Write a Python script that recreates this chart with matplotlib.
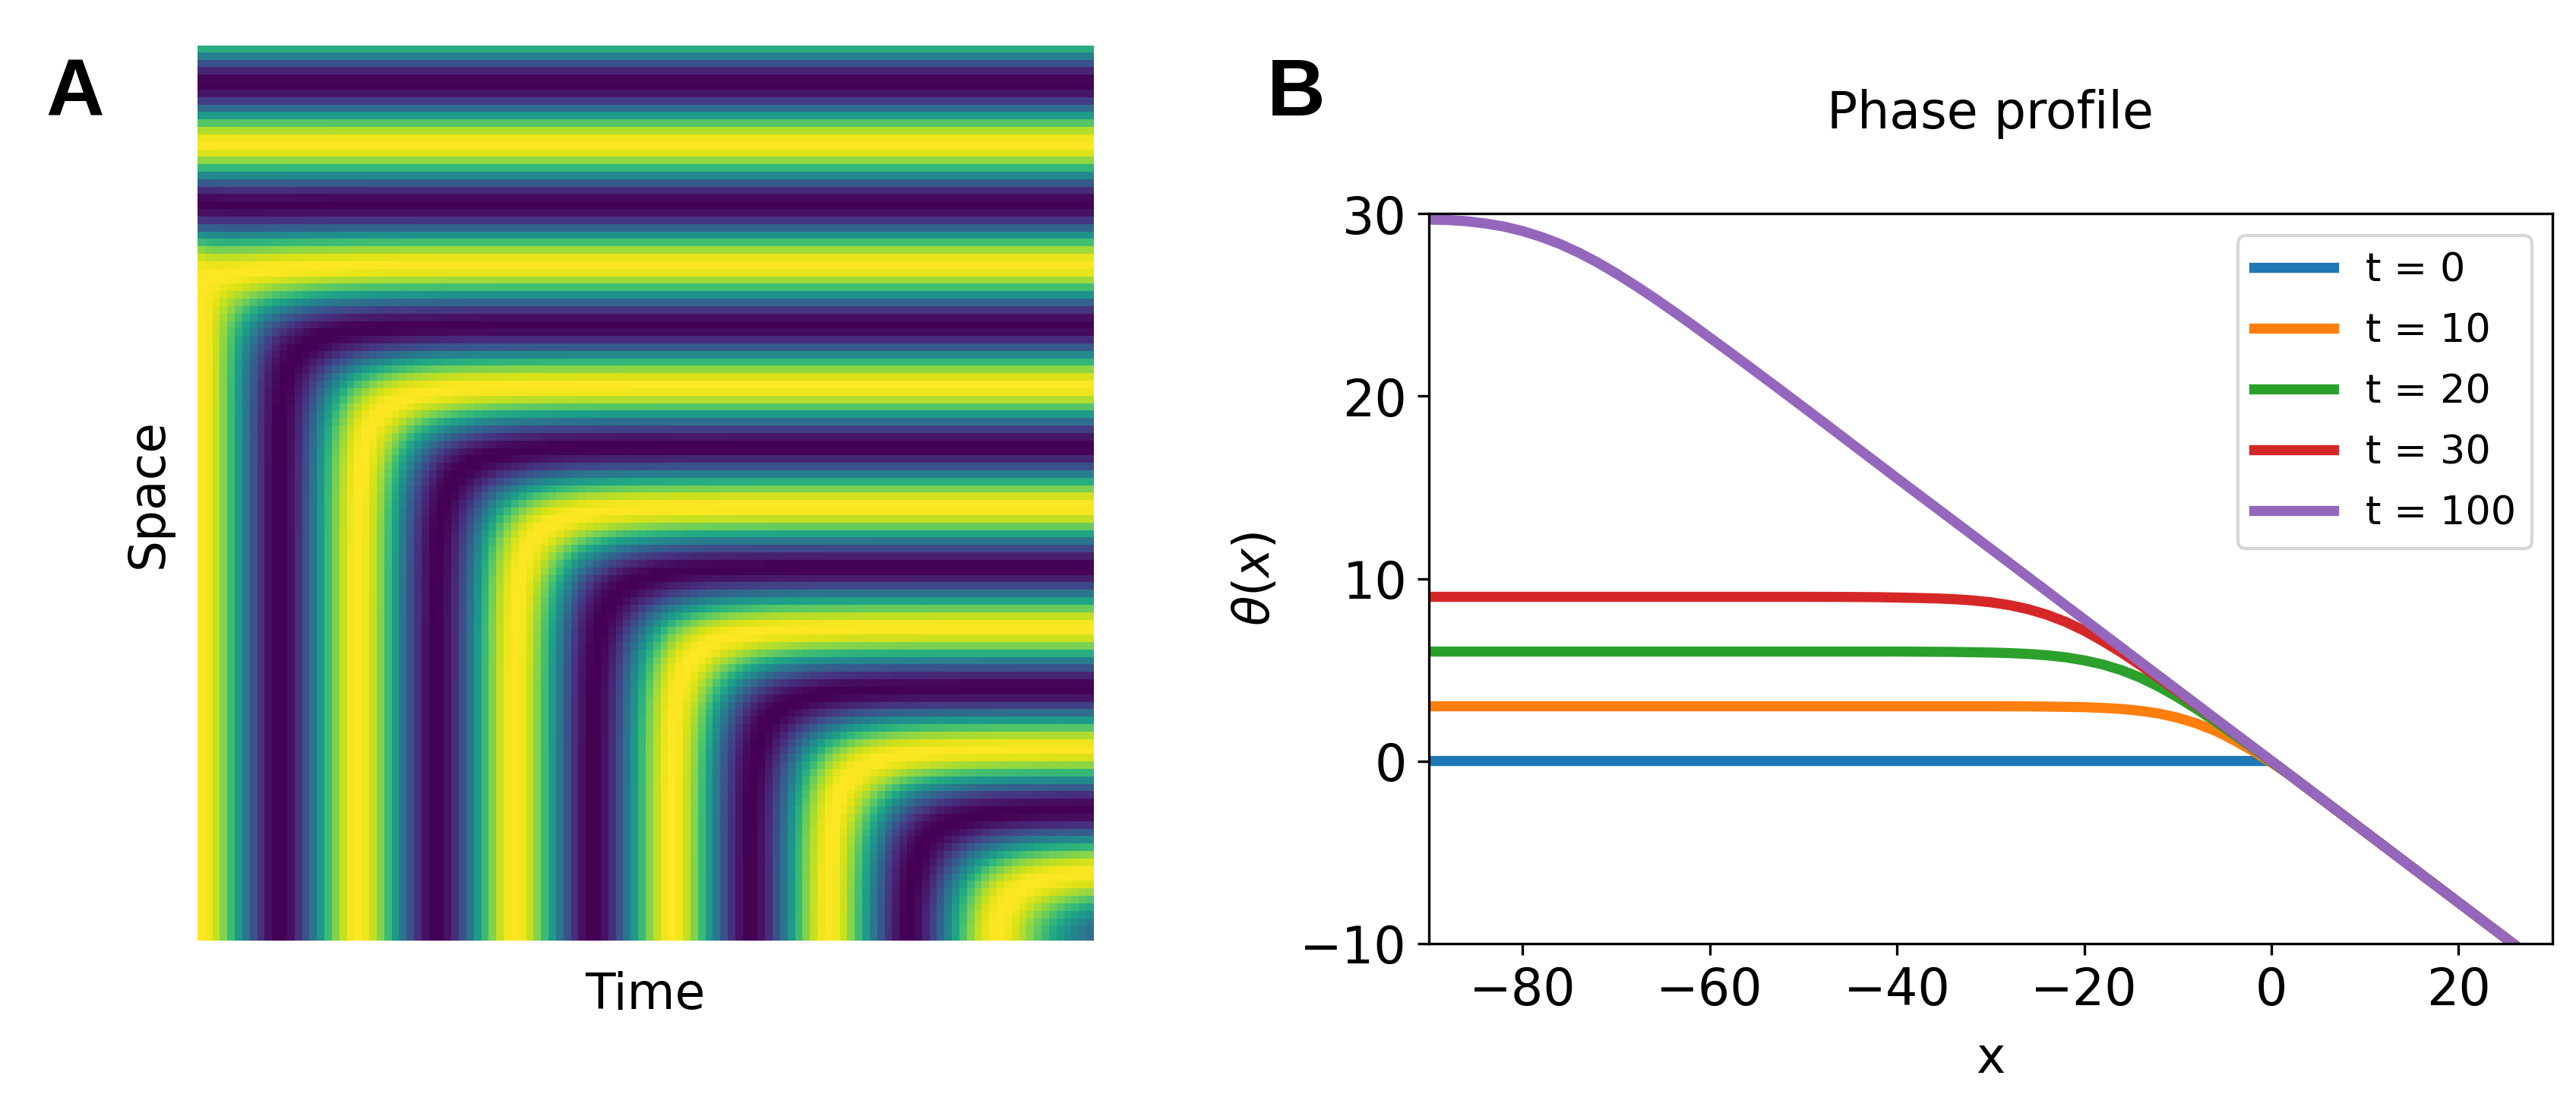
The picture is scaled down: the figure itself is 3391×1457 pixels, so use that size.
import numpy as np
import matplotlib
matplotlib.use("Agg")
import matplotlib.pyplot as plt

# ---- Panel B: curves ----
x_t0 = [-90, -60, -30, -10, 0, 10, 20, 29]
y_t0 = [0, 0, 0, 0, 0, -3.88, -7.76, -11.25]

x_t10 = [-90, -40, -30, -25, -22, -20, -18, -16, -14, -12, -10, -8, -6, -4, -2, 0, 2, 5, 10, 20, 29]
y_t10 = [3, 3, 3, 2.99, 2.97, 2.95, 2.91, 2.85, 2.75, 2.60, 2.37, 2.06, 1.66, 1.14, 0.56, -0.08, -0.78, -1.94, -3.88, -7.76, -11.25]

x_t20 = [-90, -40, -34, -30, -28, -26, -24, -22, -20, -18, -16, -14, -12, -10, -8, -6, -4, -2, 0, 2, 5, 10, 20, 29]
y_t20 = [6, 6, 5.98, 5.945, 5.915, 5.87, 5.795, 5.685, 5.515, 5.29, 4.975, 4.57, 4.07, 3.49, 2.85, 2.17, 1.45, 0.715, -0.035, -0.78, -1.94, -3.88, -7.76, -11.25]

x_t30 = [-90, -50, -46, -42, -38, -36, -34, -32, -30, -28, -26, -24, -22, -20, -18, -16, -14, -12, -10, -8, -6, -4, -2, 0, 10, 20, 29]
y_t30 = [9, 9, 8.995, 8.98, 8.94, 8.915, 8.875, 8.805, 8.70, 8.545, 8.325, 8.02, 7.63, 7.145, 6.57, 5.94, 5.255, 4.545, 3.805, 3.06, 2.30, 1.535, 0.77, -0.005, -3.88, -7.76, -11.25]

x_t100 = [-90, -88, -86, -84, -82, -80, -78, -76, -74, -72, -70, -68, -66, -64, -62, -60, -58, -56, -52, -48, -40, -30, -20, -10, 0, 10, 20, 29]
y_t100 = [29.68, 29.66, 29.59, 29.47, 29.30, 29.05, 28.73, 28.34, 27.87, 27.33, 26.73, 26.08, 25.40, 24.69, 23.96, 23.21, 22.46, 21.70, 20.17, 18.62, 15.5, 11.64, 7.76, 3.88, 0, -3.88, -7.76, -11.25]

curve_labels = ["t = 0", "t = 10", "t = 20", "t = 30", "t = 100"]
curve_colors = ["#1f77b4", "#ff7f0e", "#2ca02c", "#d62728", "#9467bd"]

# ---- Panel A: crest/trough positions read along the right and bottom edges ----
n_rows = 120
n_cols = 120
row_band_positions = [-3.4, 4.7, 12.8, 20.9, 29.0, 37.1, 45.2, 53.3, 61.4, 69.5, 77.6, 85.7, 93.8, 101.9, 110.0, 118.1, 126.2]
row_band_number = [-4, -3, -2, -1, 0, 1, 2, 3, 4, 5, 6, 7, 8, 9, 10, 11, 12]
col_band_positions = [0, 10.5, 21, 31.5, 42, 52.5, 63, 73.5, 84, 94.5, 105, 115.5, 126]
col_band_number = [0, 1, 2, 3, 4, 5, 6, 7, 8, 9, 10, 11, 12]
corner_softness = 0.6
softness_time = 8.0

W, H = 3391, 1457


def axes_box(left, top, right, bottom):
    return [left / W, 1 - bottom / H, (right - left) / W, (bottom - top) / H]


def build_field():
    rows = np.arange(n_rows)
    cols = np.arange(n_cols)
    a_phase = np.pi * np.interp(rows, row_band_positions, row_band_number)
    b_phase = np.pi * np.interp(cols, col_band_positions, col_band_number)
    a_mirror = 2 * a_phase[-1] - a_phase
    aa, bb = np.meshgrid(a_phase, b_phase, indexing="ij")
    mm = np.meshgrid(a_mirror, b_phase, indexing="ij")[0]
    _, cc = np.meshgrid(rows, cols, indexing="ij")
    s = corner_softness / np.sqrt(1 - np.exp(-(cc + 0.5) / softness_time))
    theta = -np.logaddexp(np.logaddexp(-s * aa, -s * bb), -s * mm) / s
    return np.cos(theta)


fig = plt.figure(figsize=((W + 0.2) / 300, (H + 0.2) / 300), dpi=300)

ax_a = fig.add_axes(axes_box(259.5, 60, 1439, 1238))
ax_a.imshow(build_field(), cmap="viridis", aspect="auto", interpolation="nearest", vmin=-1, vmax=1)
ax_a.set_xticks([])
ax_a.set_yticks([])
for s in ax_a.spines.values():
    s.set_visible(False)
ax_a.set_xlabel("Time", fontsize=15.5, labelpad=9.6)
ax_a.set_ylabel("Space", fontsize=15.5, labelpad=7.6)

ax_b = fig.add_axes(axes_box(1881, 281.5, 3359.5, 1241.7))
curves = [(x_t0, y_t0), (x_t10, y_t10), (x_t20, y_t20), (x_t30, y_t30), (x_t100, y_t100)]
for (xs, ys), lab, col in zip(curves, curve_labels, curve_colors):
    ax_b.plot(xs, ys, color=col, lw=3.2, label=lab)
ax_b.set_xlim(-90, 30)
ax_b.set_ylim(-10, 30)
ax_b.set_xticks([-80, -60, -40, -20, 0, 20])
ax_b.set_yticks([-10, 0, 10, 20, 30])
ax_b.tick_params(labelsize=16)
ax_b.set_xlabel("x", fontsize=15.5, labelpad=6)
ax_b.set_ylabel(r"$\theta(x)$", fontsize=15.5, labelpad=6.2)
ax_b.set_title("Phase profile", fontsize=16, pad=27)
ax_b.legend(loc="upper right", bbox_to_anchor=(1, 0.997), fontsize=12.6, labelspacing=0.57)

panel_font = ["Liberation Sans", "DejaVu Sans"]
fig.text(60 / W, 1 - 152 / H, "A", fontsize=25.5, fontweight="bold", family=panel_font, ha="left", va="baseline")
fig.text(1668 / W, 1 - 152 / H, "B", fontsize=25.5, fontweight="bold", family=panel_font, ha="left", va="baseline")

fig.savefig("out.png", dpi=300)
